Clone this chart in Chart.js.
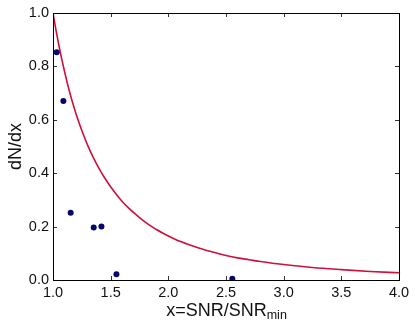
<!DOCTYPE html>
<html>
<head>
<meta charset="utf-8">
<script src="https://cdn.jsdelivr.net/npm/chart.js@4"></script>
<style>
html,body{margin:0;padding:0;background:#fff;}
#wrap{width:415px;height:329px;}
</style>
</head>
<body>
<div id="wrap"><canvas id="c" width="415" height="329"></canvas></div>
<script>
// Curve values
const curveX = [1.0, 1.025, 1.05, 1.075, 1.1, 1.125, 1.15, 1.175, 1.2, 1.25, 1.3, 1.35, 1.4, 1.45, 1.5, 1.55, 1.6, 1.65, 1.7, 1.75, 1.8, 1.85, 1.9, 1.95, 2.0, 2.1, 2.2, 2.3, 2.4, 2.5, 2.6, 2.7, 2.8, 2.9, 3.0, 3.25, 3.5, 3.75, 4.0];
const curveY = [1.0, 0.938, 0.881, 0.829, 0.781, 0.736, 0.695, 0.657, 0.622, 0.56, 0.505, 0.458, 0.417, 0.381, 0.349, 0.32, 0.294, 0.272, 0.252, 0.234, 0.217, 0.202, 0.188, 0.176, 0.165, 0.145, 0.129, 0.115, 0.103, 0.092, 0.083, 0.076, 0.069, 0.063, 0.058, 0.047, 0.039, 0.032, 0.027];
// Scatter points
const pointsX = [1.032, 1.09, 1.153, 1.353, 1.42, 1.55, 2.555];
const pointsY = [0.853, 0.67, 0.252, 0.197, 0.2, 0.022, 0.005];
// Tick labels
const xTicks = [1.0, 1.5, 2.0, 2.5, 3.0, 3.5, 4.0];
const yTicks = [0.0, 0.2, 0.4, 0.6, 0.8, 1.0];
const xLabelMain = "x=SNR/SNR";
const xLabelSub = "min";
const yLabel = "dN/dx";

const FONT = "'Liberation Sans', Arial, sans-serif";

const framePlugin = {
  id: 'frame',
  afterDraw(chart) {
    const ctx = chart.ctx;
    const a = chart.chartArea;
    const xs = chart.scales.x, ys = chart.scales.y;
    ctx.save();
    // inside ticks on all four sides
    ctx.strokeStyle = '#333';
    ctx.lineWidth = 1;
    const L = 4;
    xTicks.forEach(v => {
      const px = Math.round(xs.getPixelForValue(v)) + 0.5;
      ctx.beginPath();
      ctx.moveTo(px, a.bottom); ctx.lineTo(px, a.bottom - L);
      ctx.moveTo(px, a.top); ctx.lineTo(px, a.top + L);
      ctx.stroke();
    });
    yTicks.forEach(v => {
      const py = Math.round(ys.getPixelForValue(v)) + 0.5;
      ctx.beginPath();
      ctx.moveTo(a.left, py); ctx.lineTo(a.left + L, py);
      ctx.moveTo(a.right, py); ctx.lineTo(a.right - L, py);
      ctx.stroke();
    });
    // frame
    ctx.strokeStyle = '#000';
    ctx.lineWidth = 1;
    ctx.strokeRect(Math.round(a.left) + 0.5, Math.round(a.top) + 0.5,
                   Math.round(a.right - a.left), Math.round(a.bottom - a.top));
    // x axis title with subscript
    ctx.fillStyle = '#111';
    ctx.textBaseline = 'alphabetic';
    ctx.font = "18px " + FONT;
    const wMain = ctx.measureText(xLabelMain).width;
    ctx.font = "12.5px " + FONT;
    const wSub = ctx.measureText(xLabelSub).width;
    const cx = (a.left + a.right) / 2 + 0.5;
    const x0 = cx - (wMain + wSub) / 2;
    const base = 315.5;
    ctx.font = "18px " + FONT;
    ctx.textAlign = 'left';
    ctx.fillText(xLabelMain, x0, base);
    ctx.font = "12.5px " + FONT;
    ctx.fillText(xLabelSub, x0 + wMain, base + 3);
    // y axis title
    ctx.translate(20.5, (a.top + a.bottom) / 2);
    ctx.rotate(-Math.PI / 2);
    ctx.font = "18px " + FONT;
    ctx.textAlign = 'center';
    ctx.textBaseline = 'alphabetic';
    ctx.fillText(yLabel, 0, 0);
    ctx.restore();
  }
};

new Chart(document.getElementById('c'), {
  type: 'scatter',
  data: {
    datasets: [
      {
        label: 'curve',
        data: curveX.map((x, i) => ({x: x, y: curveY[i]})),
        showLine: true,
        borderColor: '#D0103A',
        borderWidth: 1.6,
        pointRadius: 0,
        cubicInterpolationMode: 'monotone',
        fill: false,
        order: 2
      },
      {
        label: 'points',
        data: pointsX.map((x, i) => ({x: x, y: pointsY[i]})),
        showLine: false,
        backgroundColor: '#06066a',
        borderColor: '#06066a',
        borderWidth: 0,
        pointRadius: 3,
        order: 1
      }
    ]
  },
  options: {
    responsive: false,
    animation: false,
    devicePixelRatio: 1,
    layout: { padding: { top: 13, right: 16, left: 0, bottom: 0 } },
    plugins: { legend: { display: false }, tooltip: { enabled: false } },
    scales: {
      x: {
        type: 'linear', min: 1, max: 4,
        afterBuildTicks: s => { s.ticks = xTicks.map(v => ({value: v})); },
        afterFit: s => { s.height = 49; },
        grid: { display: false, drawTicks: false },
        border: { display: false },
        ticks: { padding: 4, color: '#111', font: { family: FONT, size: 14.5 },
                 callback: v => Number(v).toFixed(1), maxRotation: 0, autoSkip: false }
      },
      y: {
        type: 'linear', min: 0, max: 1,
        afterBuildTicks: s => { s.ticks = yTicks.map(v => ({value: v})); },
        afterFit: s => { s.width = 53; },
        grid: { display: false, drawTicks: false },
        border: { display: false },
        ticks: { padding: 4, color: '#111', font: { family: FONT, size: 14.5 },
                 callback: v => Number(v).toFixed(1), autoSkip: false }
      }
    }
  },
  plugins: [framePlugin]
});
</script>
</body>
</html>
